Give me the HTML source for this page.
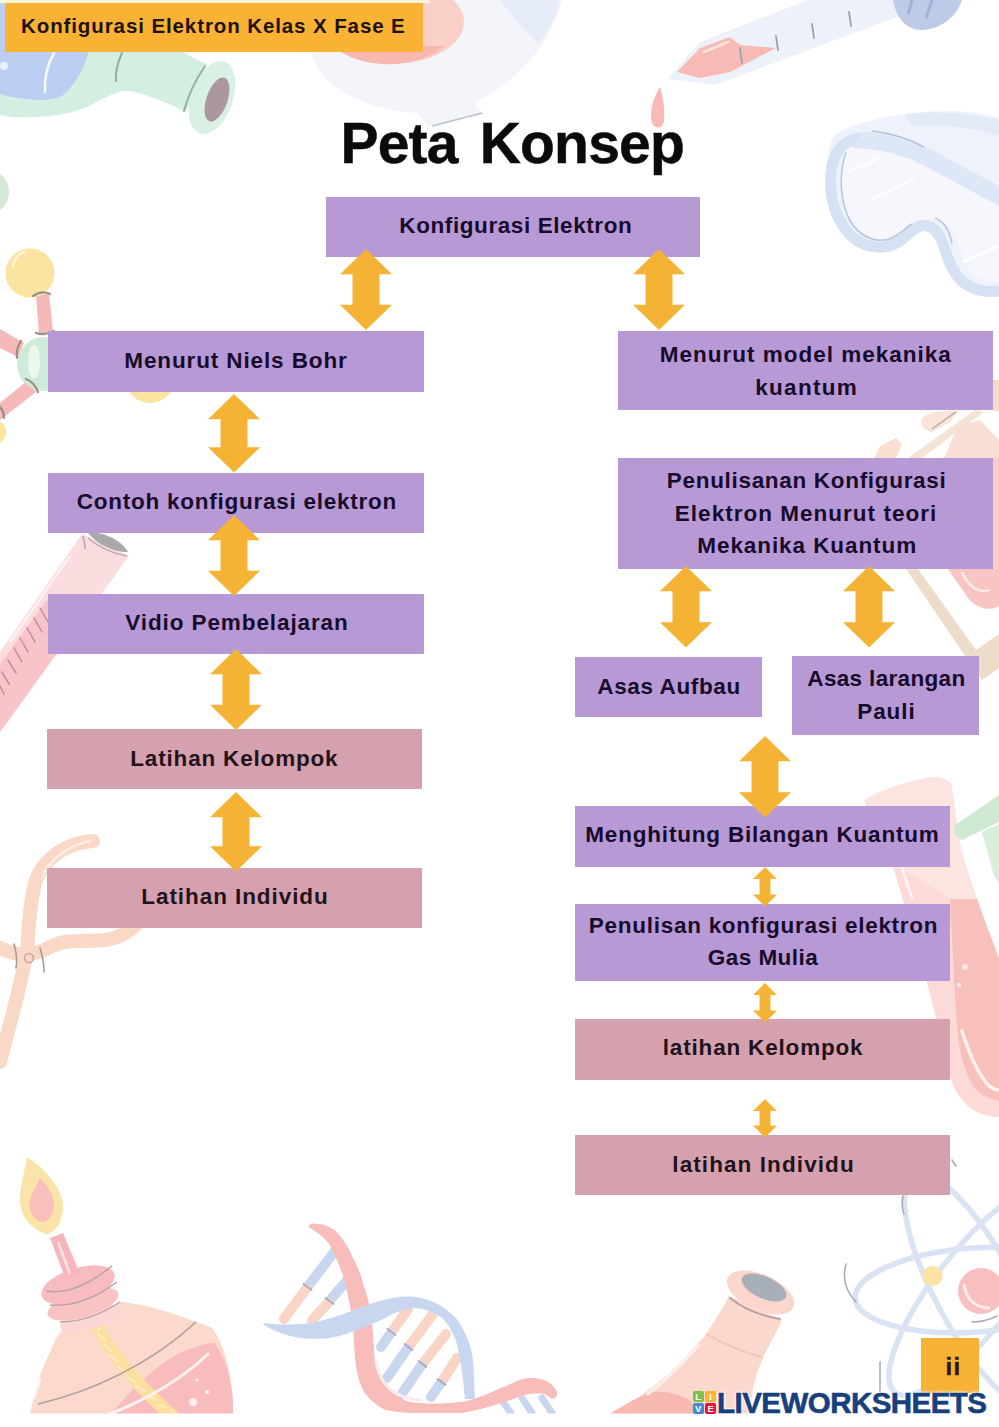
<!DOCTYPE html>
<html lang="id">
<head>
<meta charset="utf-8">
<title>Peta Konsep - Konfigurasi Elektron Kelas X Fase E</title>
<style>
*{box-sizing:border-box}
html,body{margin:0;padding:0;background:#fff}
body{font-family:"Liberation Sans","DejaVu Sans",sans-serif;color:#170b2c}
.page{position:relative;width:999px;height:1427px;overflow:hidden;background:#fff}
.bg{position:absolute;left:0;top:0;width:999px;height:1427px}
.header{position:absolute;left:5px;top:3.2px;width:418px;height:49.1px;background:#f9b233}
.header span{position:absolute;left:16px;top:10.2px;font:bold 20.5px/26px "Liberation Sans",sans-serif;letter-spacing:0.9px;white-space:nowrap;color:#1c1206}
h1{position:absolute;margin:0;left:340.5px;top:112.5px;font:bold 57px/60px "Liberation Sans",sans-serif;white-space:nowrap;color:#0b0b0d;letter-spacing:-0.8px;word-spacing:7px;-webkit-text-stroke:0.5px #0b0b0d}
.box{position:absolute}
.purple{background:#b799d5}
.pink{background:#d5a1af;color:#24121b}
.ln{position:absolute;white-space:nowrap;font:bold 22.5px/26px "Liberation Sans",sans-serif}
.arrow{position:absolute;display:block}
.arrow polygon{fill:#f5b335}
.badge{position:absolute;left:921.3px;top:1337.8px;width:58px;height:55px;background:#f5b234}
.badge span{position:absolute;left:6.4px;right:0;top:16.3px;text-align:center;font:bold 24px/26px "Liberation Sans",sans-serif;color:#2b1608;letter-spacing:1.2px;-webkit-text-stroke:0.4px #2b1608}
.lw{position:absolute;left:692.5px;top:1391.3px;height:22.5px;white-space:nowrap}
.lw .ico{position:absolute;left:0;top:0;width:23.8px;height:22.5px}
.lw .ico i{position:absolute;width:11.5px;height:10.9px;border-radius:2px;font:bold 9.5px/11px "Liberation Sans",sans-serif;color:#fff;text-align:center;font-style:normal}
.lw .txt{position:absolute;left:24.6px;top:-5.5px;font:bold 29.5px/34px "Liberation Sans",sans-serif;color:#17407c;letter-spacing:-0.55px;-webkit-text-stroke:0.6px #17407c;text-shadow:0 0 2px #fff,0 0 3px #fff,0 0 4px #fff}
</style>
</head>
<body>
<div class="page">
<svg class="bg" width="999" height="1427" viewBox="0 0 999 1427" aria-hidden="true">
<g>
<!-- top-left flask (mint glass, blue liquid) -->
<g>
<path d="M0,0 L130,0 C160,40 185,55 207,64 L186,112 C170,104 152,96 130,91 C118,90 110,95 87,107 C70,114 50,117.5 15,117.5 L0,115 Z" fill="#d4eee1"/>
<path d="M0,0 L95,0 C94,45 86,75 62,96 C50,101.5 28,101.5 0,94 Z" fill="#bbcdf0"/>
<ellipse cx="212" cy="97.5" rx="21" ry="38" transform="rotate(19 212 97.5)" fill="#d9f0e5"/>
<ellipse cx="217" cy="99.5" rx="10.5" ry="23" transform="rotate(19 217 99.5)" fill="#aa989e"/>
<path d="M54,53 Q44,70 45,92" stroke="#f4f9ff" stroke-width="2.5" fill="none" stroke-linecap="round"/>
<path d="M122,53 Q115,68 116,81" stroke="#8fb0a0" stroke-width="2" fill="none" stroke-linecap="round"/>
<path d="M205,66 Q190,88 184,111" stroke="#93b3a3" stroke-width="2" fill="none" stroke-linecap="round"/>
<circle cx="4" cy="66" r="4" fill="#e9f1fb"/>
</g>
<!-- pale inverted flask + salmon liquid behind header -->
<g>
<path d="M308,40 C312,75 345,108 418,113 L428,127 L484,114 L474,103 C520,82 552,40 562,0 L308,0 Z" fill="#f3f5fb"/>
<path d="M432,126 L482,113" stroke="#b9c0cc" stroke-width="1.5" fill="none"/>
<ellipse cx="392" cy="22" rx="72" ry="42" fill="#f9cfc8"/>
<path d="M322,30 C330,52 360,66 395,64 C415,63 432,56 445,46 L423,46 L423,52 L322,52 Z" fill="#f7b9af"/>
<path d="M500,0 L560,0 C556,18 548,32 538,44 C525,30 510,14 500,0 Z" fill="#e6ecf8"/>
</g>
<!-- pipette -->
<g>
<path d="M667,79 L700,42 L808,0 L905,0 L905,14 L715,85 Z" fill="#edf2fa"/>
<path d="M677,72 L700,48 L730,37 L740,45 L776,48 L730,72 L700,78 Z" fill="#f8bab5"/>
<path d="M704,52 L728,42" stroke="#fde4e1" stroke-width="2.5" fill="none" stroke-linecap="round"/>
<path d="M740,48 L742,63 M776,36 L778,50 M812,24 L814,38 M849,12 L851,26" stroke="#9aa3b3" stroke-width="1.8" fill="none" stroke-linecap="round"/>
<path d="M893,0 L962,0 C957,16 942,29 922,30 C906,30 896,18 893,0 Z" fill="#bdcbe9"/>
<path d="M912,0 L908,14 M932,0 L926,18" stroke="#a3b1cf" stroke-width="3" fill="none"/>
</g>
<path d="M660,87 C653,98 649,112 652,123 C655,130 664,129 664,120 C665,108 663,97 660,87 Z" fill="#f8bab5"/>
<!-- safety goggles -->
<g>
<path d="M833,137 C845,125 880,116 935,111 C960,110 985,113 999,118 L999,296 C985,296 972,293 962,286 C950,276 946,262 940,244 C934,228 924,226 916,234 C905,246 896,252 880,252 C860,250 845,238 835,215 C825,195 823,160 833,137 Z" fill="#eef2fa"/>
<path d="M849,148 C870,142 885,146 905,154 L999,196 L999,282 C985,283 975,278 968,268 C960,252 957,235 946,225 C935,216 920,218 910,228 C900,238 890,242 878,240 C862,236 850,222 844,204 C838,185 838,160 849,148 Z" fill="#f5f7fc"/>
<path d="M858,138 C842,142 834,152 831,172 C829,195 834,214 846,230 C856,243 870,248 884,247 C898,245 905,236 914,229 C926,221 937,227 943,244 C949,262 954,277 967,285 C978,292 990,292 999,291" stroke="#d6e1f3" stroke-width="11" fill="none" stroke-linecap="round"/>
<path d="M862,132 C895,134 915,141 930,149 L999,186 L999,206 L925,166 C905,156 885,149 852,148 Z" fill="#dde7f5"/>
<path d="M905,114 C940,110 975,114 999,120 L999,136 C975,128 945,124 912,126 Z" fill="#e2eaf7"/>
<path d="M872,131 C895,134 912,140 924,147" stroke="#b4c2d8" stroke-width="1.5" fill="none"/>
<path d="M846,152 C838,175 840,205 852,224 C862,238 878,244 892,238 C900,234 905,228 912,224" stroke="#b7c4d9" stroke-width="1.5" fill="none"/>
<path d="M935,218 C945,222 950,232 952,244" stroke="#b7c4d9" stroke-width="1.5" fill="none"/>
<path d="M848,172 L880,158 M870,200 L915,178 M962,262 L999,246" stroke="#ffffff" stroke-width="3" fill="none" opacity=".8"/>
</g>
<rect x="0" y="0" width="430" height="3.2" fill="#fdf4da"/>
<!-- molecule model (left) -->
<g>
<circle cx="-14" cy="192" r="23" fill="#d3ead6"/>
<path d="M36,296 L49,293 L53,331 L39,334 Z" fill="#f6b9b9"/>
<path d="M0,329 L24,343 L18,357 L0,348 Z" fill="#f6b9b9"/>
<path d="M0,403 L28,380 L36,392 L0,420 Z" fill="#f6b9b9"/>
<circle cx="30" cy="273" r="24.5" fill="#fbe3a0"/>
<path d="M13,266 Q15,255 24,252" stroke="#fff6d8" stroke-width="2.5" fill="none" stroke-linecap="round"/>
<circle cx="44" cy="364" r="27" fill="#cdebd6"/>
<ellipse cx="34" cy="362" rx="6" ry="17" fill="#eaf7ee"/>
<circle cx="150" cy="378" r="25" fill="#fbe3a0"/>
<circle cx="-6" cy="432" r="12" fill="#fbe3a0"/>
<path d="M33,296 Q42,290 50,294 M36,333 Q45,336 54,331 M21,341 Q16,348 17,358 M26,379 Q34,382 38,392 M-2,405 Q4,410 4,418" stroke="#9c8f88" stroke-width="2.2" fill="none" stroke-linecap="round"/>
</g>
<!-- test tube (left, tilted) -->
<g>
<path d="M82,534 L129,556 L0,732 L0,652 Z" fill="#fbdcdf"/>
<path d="M47,600 L76,626 L0,732 L0,664 Z" fill="#f8c4c9"/>
<path d="M88,533 C100,530 122,540 128,552 C118,553 98,546 88,533 Z" fill="#a9a9ab"/>
<path d="M83,536 C84,541 85,545 85,549 M88,538 C100,548 114,554 127,556" stroke="#b9a9ad" stroke-width="1.6" fill="none"/>
<path d="M40,608 L48,622 M34,618 L42,632 M27,628 L35,642 M20,638 L28,652 M14,648 L22,662 M8,660 L16,673 M2,672 L9,684 M0,686 L4,694" stroke="#b98f97" stroke-width="1.5" fill="none" stroke-linecap="round"/>
<path d="M70,556 L10,642" stroke="#fff1f2" stroke-width="2.5" fill="none"/>
</g>
<!-- test tube rack (right edge) -->
<g>
<path d="M993,380 L999,380 L999,411 L993,411 Z" fill="#f6dcc6"/>
<path d="M874,458 L880,446 L896,438 L902,444 L896,458 Z" fill="#f9e0d3"/>
<path d="M908,458 L975,410 L984,412 L922,458 Z" fill="#f5e4d5"/>
<path d="M921,420 C925,413 940,410 958,411 L950,422 L932,432 C925,431 920,426 921,420 Z" fill="#fae3d8"/>
<path d="M932,429 L956,412" stroke="#b5a69d" stroke-width="1.4" fill="none"/>
<path d="M944,458 L958,426 L980,420 L999,440 L999,458 Z" fill="#fadfd6"/>
<path d="M993,458 L999,458 L999,569 L993,569 Z" fill="#f8cfc6"/>
<path d="M906,569 L918,569 L976,650 L999,634 L999,668 L982,680 L968,660 Z" fill="#eedccb"/>
<path d="M948,569 L999,569 L999,606 C990,612 976,608 968,598 Z" fill="#f8c6c2"/>
<path d="M962,572 C968,586 978,594 990,590" stroke="#fdeceb" stroke-width="2.2" fill="none"/>
</g>
<!-- big pink test tube + green tube (right) -->
<g>
<path d="M864,800 C880,790 905,782 928,777.5 C938,776 947,778 951.5,784 C954,800 956,815 958,830 C961,850 965,862 968,872 C975,892 986,925 999,958 L999,1117 C986,1117 975,1112 967,1105 C959,1097 953,1087 950,1076 L930,993 L912,930 L893,866 C884,845 874,822 864,800 Z" fill="#fce4e1"/>
<path d="M893,866 L912,930 L930,993 L950,1076 C953,1087 959,1097 967,1105 C975,1112 986,1117 999,1117 L999,958 C992,940 984,920 977,899 L950,899 C935,890 915,875 893,866 Z" fill="#fbdad7"/>
<path d="M950,899 L977,899 C984,920 992,940 999,958 L999,1101 C988,1099 979,1094 973,1086 C965,1072 960,1055 958,1037 C956,1015 955,995 954,978 C953,950 951,925 950,899 Z" fill="#f8c0bb"/>
<path d="M902,868 L912,898" stroke="#fef4f3" stroke-width="3" fill="none" stroke-linecap="round"/>
<path d="M962,1031 C968,1050 976,1070 987,1084 C991,1088 995,1090 999,1090" stroke="#fef0ef" stroke-width="3.5" fill="none" stroke-linecap="round"/>
<circle cx="965" cy="967" r="3" fill="#fde9e7"/><circle cx="959" cy="985" r="2.2" fill="#fde9e7"/>
<path d="M954,826 L999,795 L999,822 L962,840 C956,838 953,832 954,826 Z" fill="#cfe8d1"/>
<path d="M982,832 L999,824 L999,884 L994,876 Z" fill="#d9eedb"/>
</g>
<!-- crucible tongs (left) -->
<g fill="none" stroke-linecap="round" stroke-linejoin="round">
<path d="M93,841 C70,842 45,856 36,880 C28,905 30,930 26,955 C20,990 8,1030 0,1062" stroke="#fad8c6" stroke-width="14"/>
<path d="M0,948 C15,955 30,958 48,948 C65,938 85,942 105,940 C120,938 132,930 138,922" stroke="#fad8c6" stroke-width="14"/>
<path d="M90,841 C70,845 50,858 42,878" stroke="#fdeee6" stroke-width="2.5"/>
<path d="M14,944 Q18,958 16,968 M40,948 Q44,960 44,972" stroke="#a99a97" stroke-width="1.6"/>
<circle cx="29" cy="958" r="4.5" stroke="#c9a6a6" stroke-width="1.6"/>
</g>
<!-- alcohol burner (bottom-left) -->
<g>
<path d="M64,1328 L122,1302 C140,1304 165,1309 212,1328 C226,1345 234,1385 233,1414 L30,1414 C35,1390 42,1368 50,1352 C54,1342 58,1334 64,1328 Z" fill="#fbd9cd"/>
<path d="M112,1414 C125,1396 145,1376 165,1362 C182,1350 200,1344 215,1343 C228,1362 234,1390 233,1414 Z" fill="#f8bcbc"/>
<path d="M84,1316 L97,1311 C108,1338 128,1368 180,1414 L160,1414 C125,1382 100,1350 84,1316 Z" fill="#fadf9f"/>
<path d="M92,1322 L100,1330 M97,1333 L106,1341 M103,1344 L112,1352 M109,1355 L119,1362 M117,1366 L127,1372 M126,1376 L136,1382 M135,1386 L146,1391 M146,1396 L157,1400 M157,1405 L168,1408" stroke="#fcecc4" stroke-width="2" fill="none"/>
<path d="M38,1404 C90,1392 150,1365 196,1322" stroke="#a8a09c" stroke-width="1.6" fill="none"/>
<path d="M110,1414 C150,1398 185,1376 208,1354" stroke="#fdf3f0" stroke-width="3" fill="none" stroke-linecap="round"/>
<path d="M40,1380 L34,1398" stroke="#fdf3f0" stroke-width="2.5" fill="none" stroke-linecap="round"/>
<ellipse cx="90" cy="1318" rx="31" ry="11" transform="rotate(-17 90 1318)" fill="#fbd6d2"/>
<ellipse cx="83" cy="1304" rx="37" ry="13" transform="rotate(-17 83 1304)" fill="#f9c3c4"/>
<ellipse cx="78" cy="1285" rx="38" ry="17" transform="rotate(-17 78 1285)" fill="#f8bcc0"/>
<path d="M46,1291 Q75,1296 112,1266 M50,1305 Q82,1308 117,1282 M60,1322 Q90,1322 120,1302" stroke="#b3a3a3" stroke-width="1.5" fill="none"/>
<path d="M50,1238 L63,1233 L80,1274 L66,1280 Z" fill="#f7b6be"/>
<path d="M58,1242 L70,1274" stroke="#fde3e6" stroke-width="2.5" fill="none"/>
<path d="M27,1157 C40,1165 62,1185 63,1205 C63,1222 56,1232 47,1234 C32,1230 18,1215 20,1196 C21,1182 25,1170 27,1157 Z" fill="#fbe4a8"/>
<path d="M40,1178 C48,1186 55,1196 54,1207 C53,1216 48,1222 42,1222 C33,1220 28,1210 30,1200 C32,1192 37,1186 40,1178 Z" fill="#f9bfbd"/>
<circle cx="193" cy="1402" r="4" fill="#fdeff0"/><circle cx="207" cy="1392" r="2.2" fill="#fdeff0"/><circle cx="197" cy="1380" r="1.6" fill="#fdeff0"/>
</g>
<!-- DNA helix -->
<g>
<g fill="none" stroke-linecap="round" stroke-width="10">
<path d="M335,1251 L309,1285" stroke="#c8d6ef"/>
<path d="M306,1289 L284,1319" stroke="#fad4c5"/>
<path d="M350,1277 L331,1299" stroke="#c8d6ef"/>
<path d="M328,1303 L312,1320" stroke="#fad4c5"/>
<path d="M408,1309 L393,1330" stroke="#fad4c5"/>
<path d="M390,1334 L381,1347" stroke="#c8d6ef"/>
<path d="M433,1314 L410,1345" stroke="#fad4c5"/>
<path d="M407,1349 L387,1378" stroke="#c8d6ef"/>
<path d="M446,1334 L424,1362" stroke="#fad4c5"/>
<path d="M421,1366 L401,1395" stroke="#c8d6ef"/>
<path d="M457,1358 L443,1380" stroke="#fad4c5"/>
<path d="M440,1384 L431,1397" stroke="#c8d6ef"/>
<path d="M503,1402 L511,1413 M522,1398 L532,1413 M542,1398 L552,1413" stroke="#c8d6ef" stroke-width="7"/>
</g>
<path d="M315.7,1223.8 C324,1224 330,1227 335.3,1230.8 C342,1238 348,1246 352.1,1256 C357,1265 361,1275 363.3,1284 C367,1295 370,1306 371.7,1317.7 C373,1331 373.5,1344 374.5,1357 C376,1368 380,1377 385.7,1385 C391,1393 399,1399 408.2,1401.8 C426,1405 446,1404 464.2,1401.8 C484,1397 503,1387 520,1380 C536,1375 552,1380 557,1392 C558,1397 554,1400 550,1398 C546,1392 536,1392 520,1396 C500,1404 480,1410 460,1413 L422,1413 C408,1413 396,1412 385.7,1410 C376,1405 368,1399 363.3,1390.6 C358,1380 356,1369 354.9,1357 C354,1344 353.5,1331 352.1,1317.7 C350,1304 347,1291 343.7,1278.5 C340,1266 335,1255 329.7,1244.8 C324,1237 317,1232 310,1228 C307,1225 311,1223 315.7,1223.8 Z" fill="#f8bdbb"/>
<path d="M265.2,1323.3 C280,1325 295,1325 310,1323.3 C325,1320 339,1316 352.1,1310.7 C363,1306 374,1302 385.7,1299.5 C395,1297 404,1296 413.8,1296.7 C424,1298 434,1301 441.8,1306.5 C450,1312 457,1318 461.4,1326 C467,1336 471,1346 472.6,1357 C474,1370 474,1383 475,1399 L465,1399 C464,1388 463,1378 461.4,1368 C460,1358 458,1349 455.8,1340 C452,1331 448,1323 441.8,1317.7 C433,1312 424,1308 413.8,1308 C404,1309 394,1313 385.7,1317.7 C374,1323 363,1328 352.1,1331.7 C343,1335 334,1338 324,1338.7 C315,1339 305,1339 296,1337.3 C286,1335 276,1332 268,1327.5 C263,1325 262,1323 265.2,1323.3 Z" fill="#c8d6ef"/>
<path d="M385.7,1385 C391,1393 399,1399 408.2,1401.8 C426,1405 446,1404 464.2,1401.8 C484,1397 503,1387 520,1380 L524,1395 C500,1404 480,1410 460,1413 L422,1413 C408,1413 396,1412 385.7,1410 C376,1405 370,1399 366,1392 Z" fill="#f8bdbb"/>
<path d="M376,1362 C380,1385 395,1398 420,1400" stroke="#fdeaea" stroke-width="3" fill="none" stroke-linecap="round"/>
<path d="M303.5,1284 L311.5,1290 M325.5,1298 L333.5,1304 M387.5,1329 L395.5,1335 M404.5,1344 L412.5,1350 M418.5,1361 L426.5,1367 M437.5,1379 L445.5,1385" stroke="#a9abba" stroke-width="1.8" fill="none" stroke-linecap="round"/>
</g>
<!-- flask (bottom centre) -->
<g>
<path d="M729,1296 L782,1320 C776,1334 768,1346 763,1358 C756,1374 752,1388 750,1414 L610,1414 C640,1398 668,1378 690,1352 C700,1340 706,1336 706,1334 C714,1322 722,1310 729,1296 Z" fill="#fbd8ce"/>
<path d="M610,1414 C625,1404 640,1396 652,1392 C666,1390 680,1394 692,1402 C694,1406 694,1410 692,1414 Z" fill="#f7b9b1"/>
<ellipse cx="760.5" cy="1292.5" rx="36" ry="18" transform="rotate(24 760.5 1292.5)" fill="#fbd6cc"/>
<ellipse cx="764" cy="1287.5" rx="24" ry="11" transform="rotate(24 764 1287.5)" fill="#a9afb8"/>
<path d="M730,1298 C745,1310 762,1316 780,1319" stroke="#b9a09f" stroke-width="1.8" fill="none" stroke-linecap="round"/>
<path d="M706,1334 C724,1344 742,1352 762,1357" stroke="#f4c3b8" stroke-width="2" fill="none"/>
<path d="M698,1346 C684,1362 666,1380 648,1394" stroke="#fdeee9" stroke-width="3" fill="none" stroke-linecap="round"/>
</g>
<!-- atom (bottom-right) -->
<g fill="none">
<ellipse cx="975" cy="1290" rx="120" ry="42" transform="rotate(-4 975 1290)" stroke="#d9e3f3" stroke-width="5.5"/>
<ellipse cx="975" cy="1290" rx="130" ry="40" transform="rotate(62 975 1290)" stroke="#d9e3f3" stroke-width="5.5"/>
<ellipse cx="975" cy="1290" rx="130" ry="40" transform="rotate(-52 975 1290)" stroke="#d9e3f3" stroke-width="5.5"/>
<circle cx="981" cy="1291" r="23" fill="#f8bfc1"/>
<path d="M964,1284 C966,1300 976,1308 990,1308" stroke="#fdecec" stroke-width="3"/>
<circle cx="932.5" cy="1276" r="10" fill="#fbe3a4"/>
<path d="M903,1196 Q901,1206 904,1214 M846,1264 Q840,1285 856,1302 M880,1362 L880,1392 M972,1322 Q985,1322 997,1316 M952,1160 L956,1166" stroke="#a9adb5" stroke-width="1.6" stroke-linecap="round"/>
</g>
</g>
<rect x="0" y="1413.5" width="999" height="13.5" fill="#ffffff"/>
</svg>
<div class="header"><span>Konfigurasi Elektron Kelas X Fase E</span></div>
<h1>Peta Konsep</h1>
<div class="box purple" style="left:326px;top:197px;width:374px;height:59.5px"><span class="ln" style="left:73.3px;top:15.96px;letter-spacing:0.59px">Konfigurasi Elektron</span></div>
<div class="box purple" style="left:48px;top:331px;width:375.5px;height:61px"><span class="ln" style="left:76.3px;top:16.96px;letter-spacing:0.88px">Menurut Niels Bohr</span></div>
<div class="box purple" style="left:48px;top:472.5px;width:375.5px;height:60px"><span class="ln" style="left:28.8px;top:16.46px;letter-spacing:0.75px">Contoh konfigurasi elektron</span></div>
<div class="box purple" style="left:48px;top:594px;width:375.5px;height:60px"><span class="ln" style="left:77.3px;top:16.46px;letter-spacing:0.9px">Vidio Pembelajaran</span></div>
<div class="box pink" style="left:47px;top:729px;width:375px;height:60px"><span class="ln" style="left:83.3px;top:16.96px;letter-spacing:0.82px">Latihan Kelompok</span></div>
<div class="box pink" style="left:47px;top:867.5px;width:375px;height:60px"><span class="ln" style="left:94.3px;top:16.46px;letter-spacing:0.93px">Latihan Individu</span></div>
<div class="box purple" style="left:618px;top:331px;width:374.5px;height:78.7px"><span class="ln" style="left:41.8px;top:10.96px;letter-spacing:0.99px">Menurut model mekanika</span><span class="ln" style="left:137.3px;top:43.96px;letter-spacing:1.27px">kuantum</span></div>
<div class="box purple" style="left:618px;top:458px;width:374.5px;height:110.6px"><span class="ln" style="left:48.8px;top:9.96px;letter-spacing:0.69px">Penulisanan Konfigurasi</span><span class="ln" style="left:56.8px;top:42.96px;letter-spacing:1.02px">Elektron Menurut teori</span><span class="ln" style="left:79.3px;top:74.96px;letter-spacing:0.92px">Mekanika Kuantum</span></div>
<div class="box purple" style="left:574.5px;top:657px;width:187.5px;height:60px"><span class="ln" style="left:22.8px;top:16.96px;letter-spacing:0.62px">Asas Aufbau</span></div>
<div class="box purple" style="left:792px;top:655.5px;width:187px;height:79px"><span class="ln" style="left:15.3px;top:10.46px;letter-spacing:0.34px">Asas larangan</span><span class="ln" style="left:65.3px;top:43.46px;letter-spacing:0.9px">Pauli</span></div>
<div class="box purple" style="left:574.5px;top:806px;width:375.5px;height:60.5px"><span class="ln" style="left:10.8px;top:15.96px;letter-spacing:0.81px">Menghitung Bilangan Kuantum</span></div>
<div class="box purple" style="left:575px;top:903.5px;width:375px;height:77.5px"><span class="ln" style="left:13.8px;top:9.86px;letter-spacing:0.73px">Penulisan konfigurasi elektron</span><span class="ln" style="left:132.8px;top:41.96px;letter-spacing:0.45px">Gas Mulia</span></div>
<div class="box pink" style="left:575px;top:1019px;width:375px;height:60.5px"><span class="ln" style="left:87.8px;top:15.66px;letter-spacing:0.82px">latihan Kelompok</span></div>
<div class="box pink" style="left:575px;top:1134.5px;width:375px;height:60.5px"><span class="ln" style="left:97.3px;top:17.86px;letter-spacing:1.09px">latihan Individu</span></div>
<svg class="arrow" style="left:340px;top:249px" width="52" height="81" viewBox="0 0 52 81"><polygon points="26,0 52,25.2 39.5,25.2 39.5,55.8 52,55.8 26,81 0,55.8 12.5,55.8 12.5,25.2 0,25.2"/></svg>
<svg class="arrow" style="left:633px;top:249px" width="52" height="81" viewBox="0 0 52 81"><polygon points="26,0 52,25.2 39.5,25.2 39.5,55.8 52,55.8 26,81 0,55.8 12.5,55.8 12.5,25.2 0,25.2"/></svg>
<svg class="arrow" style="left:208px;top:394px" width="52" height="78.5" viewBox="0 0 52 78.5"><polygon points="26,0 52,25.2 39.5,25.2 39.5,53.3 52,53.3 26,78.5 0,53.3 12.5,53.3 12.5,25.2 0,25.2"/></svg>
<svg class="arrow" style="left:208px;top:515px" width="52" height="81" viewBox="0 0 52 81"><polygon points="26,0 52,25.2 39.5,25.2 39.5,55.8 52,55.8 26,81 0,55.8 12.5,55.8 12.5,25.2 0,25.2"/></svg>
<svg class="arrow" style="left:210px;top:649px" width="52" height="81" viewBox="0 0 52 81"><polygon points="26,0 52,25.2 39.5,25.2 39.5,55.8 52,55.8 26,81 0,55.8 12.5,55.8 12.5,25.2 0,25.2"/></svg>
<svg class="arrow" style="left:210px;top:792px" width="52" height="79.5" viewBox="0 0 52 79.5"><polygon points="26,0 52,25.2 39.5,25.2 39.5,54.3 52,54.3 26,79.5 0,54.3 12.5,54.3 12.5,25.2 0,25.2"/></svg>
<svg class="arrow" style="left:660px;top:566px" width="52" height="81.5" viewBox="0 0 52 81.5"><polygon points="26,0 52,25.2 39.5,25.2 39.5,56.3 52,56.3 26,81.5 0,56.3 12.5,56.3 12.5,25.2 0,25.2"/></svg>
<svg class="arrow" style="left:842.5px;top:566px" width="52" height="81.5" viewBox="0 0 52 81.5"><polygon points="26,0 52,25.2 39.5,25.2 39.5,56.3 52,56.3 26,81.5 0,56.3 12.5,56.3 12.5,25.2 0,25.2"/></svg>
<svg class="arrow" style="left:738.5px;top:735.5px" width="52" height="81.5" viewBox="0 0 52 81.5"><polygon points="26,0 52,25.2 39.5,25.2 39.5,56.3 52,56.3 26,81.5 0,56.3 12.5,56.3 12.5,25.2 0,25.2"/></svg>
<svg class="arrow" style="left:753px;top:866.5px" width="24" height="39.5" viewBox="0 0 24 39.5"><polygon points="12,0 24,12 17.5,12 17.5,27.5 24,27.5 12,39.5 0,27.5 6.5,27.5 6.5,12 0,12"/></svg>
<svg class="arrow" style="left:753px;top:982.5px" width="24" height="39.5" viewBox="0 0 24 39.5"><polygon points="12,0 24,12 17.5,12 17.5,27.5 24,27.5 12,39.5 0,27.5 6.5,27.5 6.5,12 0,12"/></svg>
<svg class="arrow" style="left:753px;top:1098.5px" width="24" height="38.5" viewBox="0 0 24 38.5"><polygon points="12,0 24,12 17.5,12 17.5,26.5 24,26.5 12,38.5 0,26.5 6.5,26.5 6.5,12 0,12"/></svg>
<div class="badge"><span>ii</span></div>
<div class="lw"><div class="ico"><i style="left:0;top:0;background:#7cc142">L</i><i style="left:12.3px;top:0;background:#f3b730">I</i><i style="left:0;top:11.6px;background:#3f8ad8">V</i><i style="left:12.3px;top:11.6px;background:#e4123c">E</i></div><span class="txt">LIVEWORKSHEETS</span></div>
</div>
</body>
</html>
